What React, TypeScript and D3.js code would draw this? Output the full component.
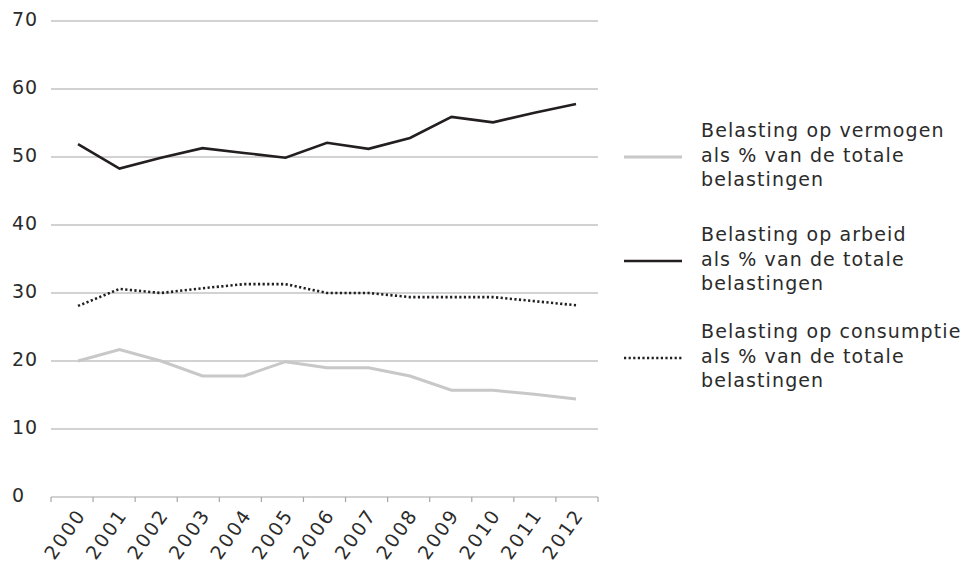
import React, { useEffect, useRef } from "react"
import * as d3 from "d3"

const years = ["2000", "2001", "2002", "2003", "2004", "2005", "2006", "2007", "2008", "2009", "2010", "2011", "2012"]
const vermogen = [20, 21.7, 20, 17.8, 17.8, 19.9, 19, 19, 17.8, 15.7, 15.7, 15.1, 14.4]
const arbeid = [51.9, 48.3, 49.9, 51.3, 50.6, 49.9, 52.1, 51.2, 52.8, 55.9, 55.1, 56.5, 57.8]
const consumptie = [28.1, 30.6, 30, 30.7, 31.3, 31.3, 30, 30, 29.4, 29.4, 29.4, 28.8, 28.2]
const yTicks = [0, 10, 20, 30, 40, 50, 60, 70]
const legendLabels = [
  ["Belasting op vermogen", "als % van de totale", "belastingen"],
  ["Belasting op arbeid", "als % van de totale", "belastingen"],
  ["Belasting op consumptie", "als % van de totale", "belastingen"],
]

const FONT = "'DejaVu Sans', sans-serif"
const TEXT = "#2b2b2b"

export default function App() {
  const ref = useRef<SVGSVGElement>(null)

  useEffect(() => {
    const svg = d3.select(ref.current)
    svg.selectAll("*").remove()

    const band = d3.scaleBand().domain(years).range([51, 598])
    const x = d3.scalePoint().domain(years).range([78, 576])
    const y = d3.scaleLinear().domain([0, 70]).range([497, 21])

    // gridlines
    svg
      .append("g")
      .selectAll("line")
      .data(yTicks.filter(t => t > 0))
      .join("line")
      .attr("x1", 51)
      .attr("x2", 598)
      .attr("y1", d => y(d))
      .attr("y2", d => y(d))
      .attr("stroke", "#a6a6a6")
      .attr("stroke-width", 1.2)

    // y labels
    svg
      .append("g")
      .attr("font-family", FONT)
      .attr("font-size", 19)
      .attr("letter-spacing", 1)
      .attr("fill", TEXT)
      .selectAll("text")
      .data(yTicks)
      .join("text")
      .attr("x", 12)
      .attr("y", d => y(d) + 5)
      .text(d => d)

    // x axis
    const xAxis = svg.append("g")
    xAxis
      .append("line")
      .attr("x1", 51)
      .attr("x2", 598)
      .attr("y1", y(0))
      .attr("y2", y(0))
      .attr("stroke", "#a6a6a6")
      .attr("stroke-width", 1.2)
    const tickPos = years.map(yr => band(yr) as number).concat([598])
    xAxis
      .selectAll("line.tick")
      .data(tickPos)
      .join("line")
      .attr("class", "tick")
      .attr("x1", d => d)
      .attr("x2", d => d)
      .attr("y1", y(0))
      .attr("y2", y(0) + 5)
      .attr("stroke", "#a6a6a6")
      .attr("stroke-width", 1.2)
    xAxis
      .selectAll("text")
      .data(years)
      .join("text")
      .attr("font-family", FONT)
      .attr("font-size", 19)
      .attr("letter-spacing", 2)
      .attr("fill", TEXT)
      .attr("text-anchor", "middle")
      .attr("dy", "0.35em")
      .attr("transform", d => `translate(${(x(d) as number) - 13},534) rotate(-55)`)
      .text(d => d)

    const series = [
      { values: vermogen, color: "#c8c8c8", width: 3, dash: null },
      { values: arbeid, color: "#231f20", width: 2.6, dash: null },
      { values: consumptie, color: "#231f20", width: 2.6, dash: "2.2 2.4" },
    ]

    const line = d3
      .line<number>()
      .x((_, i) => x(years[i]) as number)
      .y(d => y(d))

    series.forEach(s => {
      svg
        .append("path")
        .datum(s.values)
        .attr("fill", "none")
        .attr("stroke", s.color)
        .attr("stroke-width", s.width)
        .attr("stroke-dasharray", s.dash)
        .attr("d", line)
    })

    // legend
    const centers = [157, 261, 358]
    series.forEach((s, i) => {
      const g = svg.append("g").attr("transform", `translate(0,${centers[i]})`)
      g.append("line")
        .attr("x1", 624)
        .attr("x2", 682)
        .attr("y1", 0)
        .attr("y2", 0)
        .attr("stroke", s.color)
        .attr("stroke-width", s.width)
        .attr("stroke-dasharray", s.dash)
      g.selectAll("text")
        .data(legendLabels[i])
        .join("text")
        .attr("x", 701)
        .attr("y", (_, j) => (j - 1) * 24.5 + 4.5)
        .attr("font-family", FONT)
        .attr("font-size", 19)
        .attr("letter-spacing", 1.1)
        .attr("fill", TEXT)
        .text(d => d)
    })
  }, [])

  return (
    <svg
      ref={ref}
      width={969}
      height={562}
      style={{ position: "absolute", left: 0, top: 0, background: "#fff" }}
    />
  )
}
